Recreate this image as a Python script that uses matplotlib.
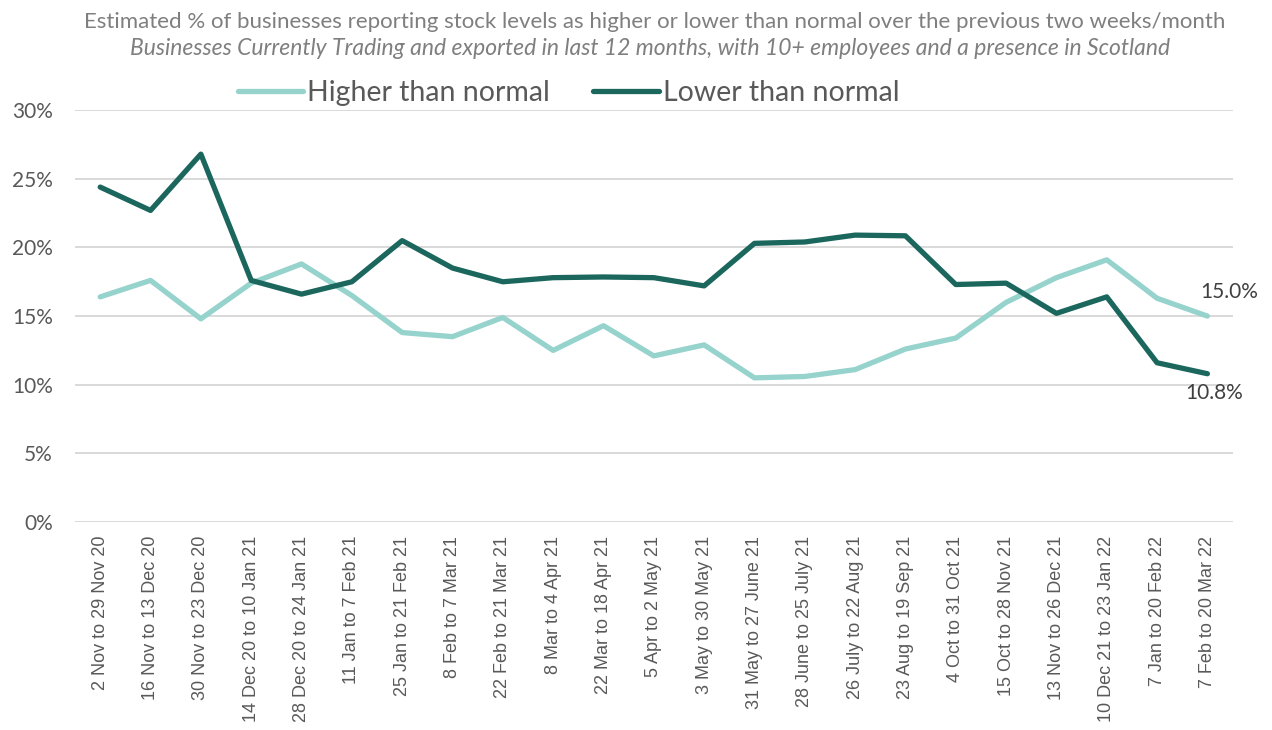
import matplotlib
matplotlib.use("Agg")
import matplotlib.pyplot as plt
from matplotlib.ticker import FuncFormatter, MultipleLocator

periods = [
    "2 Nov to 29 Nov 20", "16 Nov to 13 Dec 20", "30 Nov to 23 Dec 20",
    "14 Dec 20 to 10 Jan 21", "28 Dec 20 to 24 Jan 21", "11 Jan to 7 Feb 21",
    "25 Jan to 21 Feb 21", "8 Feb to 7 Mar 21", "22 Feb to 21 Mar 21",
    "8 Mar to 4 Apr 21", "22 Mar to 18 Apr 21", "5 Apr to 2 May 21",
    "3 May to 30 May 21", "31 May to 27 June 21", "28 June to 25 July 21",
    "26 July to 22 Aug 21", "23 Aug to 19 Sep 21", "4 Oct to 31 Oct 21",
    "15 Oct to 28 Nov 21", "13 Nov to 26 Dec 21", "10 Dec 21 to 23 Jan 22",
    "7 Jan to 20 Feb 22", "7 Feb to 20 Mar 22",
]
higher = [16.4, 17.6, 14.8, 17.4, 18.8, 16.5, 13.8, 13.5, 14.9, 12.5, 14.3, 12.1,
          12.9, 10.5, 10.6, 11.1, 12.6, 13.4, 16.0, 17.8, 19.1, 16.3, 15.0]
lower = [24.4, 22.7, 26.8, 17.6, 16.6, 17.5, 20.5, 18.5, 17.5, 17.8, 17.85, 17.8,
         17.2, 20.3, 20.4, 20.9, 20.85, 17.3, 17.4, 15.2, 16.4, 11.6, 10.8]

light = "#96D3CD"
dark = "#1B675D"
grey_text = "#595959"
calibri_like = "Lato"

fig = plt.figure(figsize=(12.72, 7.30), dpi=100)
ax = fig.add_axes([0.059, 0.285, 0.910, 0.564])

x = range(len(periods))
ax.plot(x, higher, color=light, linewidth=3.8, solid_capstyle="round",
        solid_joinstyle="round", label="Higher than normal", zorder=3)
ax.plot(x, lower, color=dark, linewidth=3.8, solid_capstyle="round",
        solid_joinstyle="round", label="Lower than normal", zorder=3)

ax.set_xlim(-0.5, len(periods) - 0.5)
ax.set_ylim(0, 30)
ax.yaxis.set_major_locator(MultipleLocator(5))
ax.yaxis.set_major_formatter(FuncFormatter(lambda v, _: f"{v:.0f}%"))
ax.grid(axis="y", color="#D9D9D9", linewidth=1.4)
ax.set_axisbelow(True)
for s in ax.spines.values():
    s.set_visible(False)
ax.tick_params(axis="both", length=0)
ax.tick_params(axis="y", labelsize=15, labelcolor=grey_text, pad=16)
for lbl in ax.get_yticklabels():
    lbl.set_family(calibri_like)
ax.set_xticks(list(x))
ax.set_xticklabels(periods, rotation=90, fontsize=13, color=grey_text,
                   family="Liberation Sans")
ax.tick_params(axis="x", pad=10)

# end-point value labels
ax.annotate(f"{higher[-1]:.1f}%", (x[-1], higher[-1]), xytext=(-5, 10),
            textcoords="offset points", fontsize=15, color="#404040",
            family=calibri_like, ha="left", va="bottom")
ax.annotate(f"{lower[-1]:.1f}%", (x[-1], lower[-1]), xytext=(-16, -7),
            textcoords="offset points", fontsize=15, color="#404040",
            family=calibri_like, ha="left", va="top")

fig.text(0.515, 0.970, "Estimated % of businesses reporting stock levels as higher or lower "
         "than normal over the previous two weeks/month",
         ha="center", va="center", fontsize=16, color="#7F7F7F", family=calibri_like)
fig.text(0.511, 0.933, "Businesses Currently Trading and exported in last 12 months, "
         "with 10+ employees and a presence in Scotland",
         ha="center", va="center", fontsize=16.5, color="#7F7F7F", style="italic",
         family=calibri_like)

fig.legend(loc="center", bbox_to_anchor=(0.447, 0.873), ncol=2, frameon=False,
           handlelength=2.3, handletextpad=0.15, columnspacing=1.5,
           prop={"family": calibri_like, "size": 20.5}, labelcolor=grey_text)

fig.savefig("out.png", dpi=100, facecolor="white")
